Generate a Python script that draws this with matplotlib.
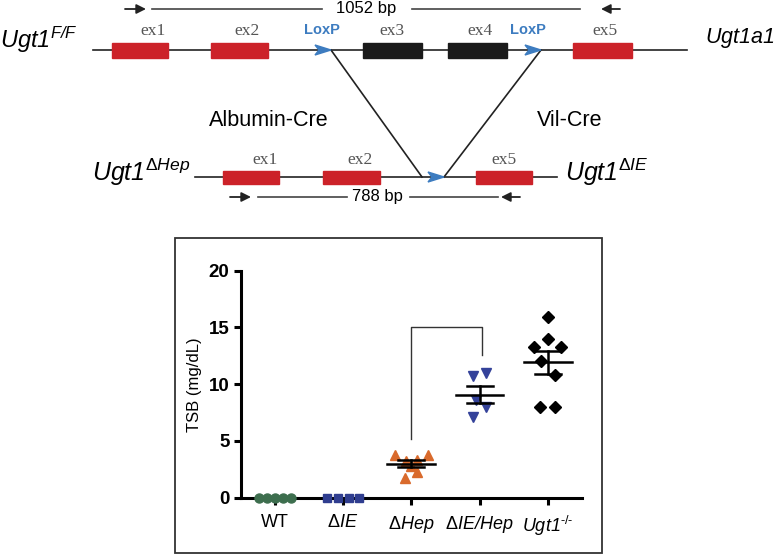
import numpy as np
import matplotlib
matplotlib.use("Agg")
import matplotlib.pyplot as plt
from matplotlib.patches import Rectangle, Polygon

plt.rcParams['font.family'] = ['Liberation Sans', 'DejaVu Sans']
plt.rcParams['mathtext.fontset'] = 'custom'
plt.rcParams['mathtext.rm'] = 'Liberation Sans'
plt.rcParams['mathtext.it'] = 'Liberation Sans:italic'
plt.rcParams['mathtext.sf'] = 'Liberation Sans:italic'
plt.rcParams['mathtext.bf'] = 'Liberation Sans:bold'

# data (TSB, mg/dL)
groups = ['WT', r'$\Delta\mathsf{IE}$', r'$\Delta\mathsf{Hep}$',
          r'$\Delta\mathsf{IE/Hep}$', r'$\mathsf{Ugt1}^{\text{-/-}}$']
wt = [0, 0, 0, 0, 0]
d_ie = [0, 0, 0, 0]
d_hep = [3.8, 3.2, 3.3, 3.8, 1.7, 2.3, 2.8]
d_ie_hep = [10.7, 11.0, 8.6, 8.0, 7.1]
ugt1_ko = [15.9, 14.0, 13.3, 13.3, 12.0, 10.8, 8.0, 8.0]

# scatter offsets of the points within each group
jit_wt = [-0.235, -0.118, 0, 0.118, 0.235]
jit_ie = [-0.24, -0.08, 0.08, 0.24]
jit_hep = [-0.245, -0.085, 0.09, 0.25, -0.095, 0.09, 0]
jit_iehep = [-0.1, 0.1, -0.05, 0.1, -0.1]
jit_ko = [0, 0, -0.2, 0.2, -0.1, 0.1, -0.11, 0.1]

fig = plt.figure(figsize=(7.77, 5.57), dpi=100)

# ---- schematic (pixel coords) ----
d = fig.add_axes([0, 0, 1, 1])
d.set_xlim(0, 777)
d.set_ylim(557, 0)
d.axis('off')

red = '#cc2229'
blue = '#3d7cc0'
gray = '#444444'


def primer(x0, x1, y):
    d.annotate('', xy=(x1, y), xytext=(x0, y),
               arrowprops=dict(arrowstyle='-|>', color='#222222', lw=1.3,
                               mutation_scale=14, shrinkA=0, shrinkB=0))


def loxp(xtip, y):
    d.add_patch(Polygon([(xtip, y), (xtip - 16, y - 5), (xtip - 12, y),
                         (xtip - 16, y + 5)], closed=True, color=blue, zorder=4))


def exon(x0, x1, y, h, c):
    d.add_patch(Rectangle((x0, y - h / 2), x1 - x0, h, color=c, zorder=3))


# top allele
primer(125, 146, 9)
d.plot([152, 322], [9, 9], color=gray, lw=1.2)
d.text(366, 9, '1052 bp', ha='center', va='center', fontsize=12)
d.plot([412, 580], [9, 9], color=gray, lw=1.2)
primer(620, 601, 9)

d.plot([93, 687], [50, 50], color='#222222', lw=1.2, zorder=2)
top_ex = [(112, 168, red, 153, 'ex1'), (211, 268, red, 247, 'ex2'),
          (363, 422, '#1a1a1a', 392, 'ex3'), (448, 507, '#1a1a1a', 480, 'ex4'),
          (573, 632, red, 605, 'ex5')]
for x0, x1, c, tx, lab in top_ex:
    exon(x0, x1, 50, 15, c)
    d.text(tx, 31, lab, ha='center', va='center', fontsize=12.5,
           family='Liberation Serif', color='#555555')
loxp(331, 50)
loxp(541, 50)
d.text(322, 30, 'LoxP', ha='center', va='center', fontsize=10.5,
       fontweight='bold', color=blue)
d.text(528, 30, 'LoxP', ha='center', va='center', fontsize=10.5,
       fontweight='bold', color=blue)
d.text(0, 40, r'$\mathsf{Ugt1}^{\mathsf{F/F}}$', ha='left', va='center', fontsize=17)
d.text(705, 38, r'$\mathsf{Ugt1a1}$', ha='left', va='center', fontsize=15.5)

# recombination lines
d.plot([331, 422], [50, 177], color='#222222', lw=1.2)
d.plot([541, 444], [50, 177], color='#222222', lw=1.2)
d.text(269, 121, 'Albumin-Cre', ha='center', va='center', fontsize=15.5)
d.text(570, 121, 'Vil-Cre', ha='center', va='center', fontsize=15.5)

# deleted allele
d.plot([195, 557], [177, 177], color='#222222', lw=1.2, zorder=2)
bot_ex = [(223, 279, 265, 'ex1'), (323, 380, 360, 'ex2'), (476, 532, 504, 'ex5')]
for x0, x1, tx, lab in bot_ex:
    exon(x0, x1, 177, 13, red)
    d.text(tx, 160, lab, ha='center', va='center', fontsize=12.5,
           family='Liberation Serif', color='#555555')
loxp(444, 177)
d.text(190, 172, r'$\mathsf{Ugt1}^{\Delta\mathsf{Hep}}$', ha='right', va='center', fontsize=18)
d.text(565, 172, r'$\mathsf{Ugt1}^{\Delta\mathsf{IE}}$', ha='left', va='center', fontsize=18)
primer(230, 251, 197)
d.plot([258, 347], [197, 197], color=gray, lw=1.2)
d.text(377, 197, '788 bp', ha='center', va='center', fontsize=12)
d.plot([410, 498], [197, 197], color=gray, lw=1.2)
primer(520, 501, 197)

# frame around the plot panel
d.add_patch(Rectangle((175, 238), 427, 315, fill=False, ec='#333333', lw=1.3))

# ---- scatter panel ----
ax = fig.add_axes([0.3098, 0.1065, 0.4392, 0.4075])
series = [(wt, jit_wt, 'o', '#3d6e4e'), (d_ie, jit_ie, 's', '#2f3d8f'),
          (d_hep, jit_hep, '^', '#d96a2c'), (d_ie_hep, jit_iehep, 'v', '#34429a'),
          (ugt1_ko, jit_ko, 'D', 'black')]
for i, (vals, jit, m, c) in enumerate(series):
    pos = i + 1
    v = np.array(vals, dtype=float)
    xs = pos + np.array(jit)
    ms = {'o': 6.5, 's': 6, '^': 7.5, 'v': 7.5, 'D': 6}[m]
    ax.plot(xs, v, ls='none', marker=m, ms=ms, color=c, mec=c, zorder=3,
            clip_on=False)
    mean = v.mean()
    sem = v.std(ddof=1) / np.sqrt(len(v))
    if sem > 0:
        ax.plot([pos - 0.35, pos + 0.35], [mean, mean], color='black', lw=1.8, zorder=4)
        ax.plot([pos, pos], [mean - sem, mean + sem], color='black', lw=1.8, zorder=4)
        for yy in (mean - sem, mean + sem):
            ax.plot([pos - 0.19, pos + 0.19], [yy, yy], color='black', lw=1.8, zorder=4)

# significance bracket
ax.plot([3, 3, 4.04, 4.04], [5.2, 15.0, 15.0, 12.6], color='#333333', lw=1.0,
        clip_on=False)

ax.set_xlim(0.5, 5.5)
ax.set_ylim(0, 20)
ax.set_yticks([0, 5, 10, 15, 20])
ax.set_xticks([1, 2, 3, 4, 5])
ax.set_xticklabels(groups, fontsize=13)
for t in ax.get_yticklabels():
    t.set_fontweight('bold')
    t.set_fontsize(13.5)
ax.set_ylabel('TSB (mg/dL)', fontsize=12, labelpad=5)
ax.spines['top'].set_visible(False)
ax.spines['right'].set_visible(False)
for s in ('left', 'bottom'):
    ax.spines[s].set_linewidth(2.2)
ax.tick_params(width=2.2, length=5, pad=3)
ax.tick_params(axis='x', pad=7)
ax.set_facecolor('none')

fig.savefig('out.png', dpi=100)
